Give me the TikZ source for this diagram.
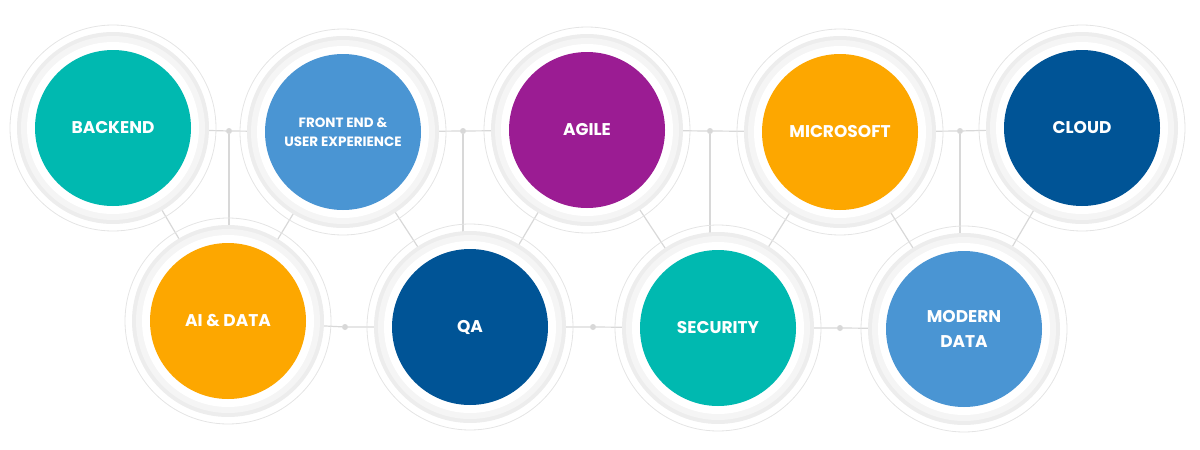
\documentclass[tikz,border=0pt]{standalone}
\usepackage{fontspec}
\setmainfont{Poppins}
\definecolor{cteal}{HTML}{00B9B0}
\definecolor{cblue}{HTML}{4A95D3}
\definecolor{cpurple}{HTML}{9B1C93}
\definecolor{corange}{HTML}{FDA700}
\definecolor{cnavy}{HTML}{005496}
\definecolor{cline}{HTML}{D8D8D8}
\tikzset{
  conn/.style={draw=cline, line width=1.2pt},
  jdot/.style={circle, fill=cline, inner sep=0pt, minimum size=6pt},
  lbl/.style={text=white, font=\bfseries\fontsize{17}{20}\selectfont, align=center},
}
\newcommand{\bub}[4]{%
  \draw[cline!70, line width=0.8pt] (#1) circle (103);
  \fill[black!7] (#1) circle (96);
  \fill[black!4] (#1) circle (92);
  \fill[white] (#1) circle (86);
  \fill[#2] (#1) circle (78);
  \node[lbl, #4] at (#1) {#3};
}
\begin{document}
\begin{tikzpicture}[x=1pt,y=-1pt]
\useasboundingbox (0,0) rectangle (1200,450);
\coordinate (c1) at (113,128);
\coordinate (c2) at (343,132);
\coordinate (c3) at (587,130);
\coordinate (c4) at (840,132);
\coordinate (c5) at (1082,128);
\coordinate (b1) at (228,321);
\coordinate (b2) at (470,327);
\coordinate (b3) at (718,328);
\coordinate (b4) at (964,329);
\node[jdot] (d1) at (229,131) {};
\node[jdot] (d2) at (463,131) {};
\node[jdot] (d3) at (710,131) {};
\node[jdot] (d4) at (960,131) {};
\node[jdot] (e1) at (345,327) {};
\node[jdot] (e2) at (593,327) {};
\node[jdot] (e3) at (840,328) {};
\draw[conn] (c1) -- (d1) -- (c2) -- (d2) -- (c3) -- (d3) -- (c4) -- (d4) -- (c5);
\draw[conn] (b1) -- (e1) -- (b2) -- (e2) -- (b3) -- (e3) -- (b4);
\draw[conn] (d1) -- (d1 |- b1);
\draw[conn] (d2) -- (d2 |- b2);
\draw[conn] (d3) -- (d3 |- b3);
\draw[conn] (d4) -- (d4 |- b4);
\draw[conn] (c1) -- (b1) -- (c2) -- (b2) -- (c3) -- (b3) -- (c4) -- (b4) -- (c5);
\bub{c1}{cteal}{BACKEND}{}
\bub{c2}{cblue}{FRONT END \&\\USER EXPERIENCE}{font=\bfseries\fontsize{13.5}{19}\selectfont}
\bub{c3}{cpurple}{AGILE}{}
\bub{c4}{corange}{MICROSOFT}{}
\bub{c5}{cnavy}{CLOUD}{}
\bub{b1}{corange}{AI \& DATA}{}
\bub{b2}{cnavy}{QA}{}
\bub{b3}{cteal}{SECURITY}{}
\bub{b4}{cblue}{MODERN\\DATA}{font=\bfseries\fontsize{17}{25}\selectfont}
\end{tikzpicture}
\end{document}
